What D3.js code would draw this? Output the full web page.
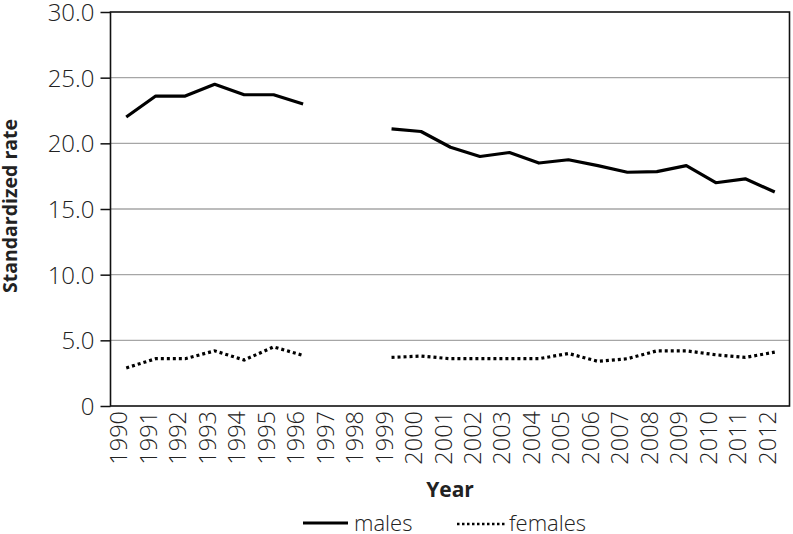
<!DOCTYPE html>
<html>
<head>
<meta charset="utf-8">
<script src="https://cdn.jsdelivr.net/npm/d3@7"></script>
<style>
  html, body { margin: 0; padding: 0; background: #fff; }
  svg { display: block; }
  text { font-family: "Open Sans", sans-serif; fill: #222; }
</style>
</head>
<body>
<svg id="chart" width="793" height="534"></svg>
<script>
const years = ["1990","1991","1992","1993","1994","1995","1996","1997","1998","1999","2000","2001","2002","2003","2004","2005","2006","2007","2008","2009","2010","2011","2012"];
const males = [22.0, 23.6, 23.6, 24.5, 23.7, 23.7, 23.0, null, null, 21.1, 20.9, 19.7, 19.0, 19.3, 18.5, 18.75, 18.3, 17.8, 17.85, 18.3, 17.0, 17.3, 16.3];
const females = [2.9, 3.6, 3.6, 4.2, 3.5, 4.5, 3.85, null, null, 3.7, 3.8, 3.6, 3.6, 3.6, 3.6, 4.0, 3.4, 3.6, 4.2, 4.2, 3.9, 3.7, 4.1];
const yTicks = [0, 5, 10, 15, 20, 25, 30];
const yTickLabels = ["0", "5.0", "10.0", "15.0", "20.0", "25.0", "30.0"];
const yTitle = "Standardized rate";
const xTitle = "Year";
const seriesNames = ["males", "females"];

(function () {
const svg = d3.select("#chart");
const pLeft = 110.5, pRight = 789.5, pTop = 12, pBottom = 406;

const x = d3.scaleBand().domain(years).range([pLeft + 1, pRight]).paddingInner(0).paddingOuter(0);
const y = d3.scaleLinear().domain([0, 30]).range([pBottom, pTop]);

// gridlines
svg.append("g").selectAll("line").data(yTicks.filter(t => t > 0 && t < 30)).join("line")
  .attr("x1", pLeft).attr("x2", pRight)
  .attr("y1", d => y(d)).attr("y2", d => y(d))
  .attr("stroke", "#a6a6a6").attr("stroke-width", 1.3);

// y axis ticks and labels
const yAxis = d3.axisLeft(y).tickValues(yTicks).tickSize(10).tickPadding(6)
  .tickFormat((d, i) => yTickLabels[i]);
const gy = svg.append("g").attr("transform", `translate(${pLeft},0)`).call(yAxis);
gy.select(".domain").remove();
gy.selectAll(".tick line").attr("stroke", "#111").attr("stroke-width", 1.5);
gy.selectAll(".tick text").attr("font-family", "Open Sans").attr("font-size", 24)
  .attr("font-weight", 300).attr("fill", "#222").attr("dy", "0.36em");

// frame
svg.append("rect").attr("x", pLeft).attr("y", pTop).attr("width", pRight - pLeft).attr("height", pBottom - pTop)
  .attr("fill", "none").attr("stroke", "#111").attr("stroke-width", 1.6);

// x labels
const xAxis = d3.axisBottom(x).tickSize(0).tickPadding(0);
const gx = svg.append("g").attr("transform", `translate(0,${pBottom})`).call(xAxis);
gx.select(".domain").remove();
gx.selectAll(".tick text")
  .attr("font-family", "Open Sans").attr("font-size", 23.5).attr("font-weight", 300).attr("fill", "#222")
  .attr("text-anchor", "end")
  .attr("transform", "translate(1,5) rotate(-90)")
  .attr("x", 0).attr("y", 0).attr("dy", 0);

// lines
const lineGen = d3.line()
  .defined(d => d.v !== null)
  .x(d => x(d.year) + x.bandwidth() / 2)
  .y(d => y(d.v));

svg.append("path")
  .datum(years.map((yr, i) => ({ year: yr, v: males[i] })))
  .attr("d", lineGen).attr("fill", "none").attr("stroke", "#000")
  .attr("stroke-width", 3.2).attr("stroke-linejoin", "round");

svg.append("path")
  .datum(years.map((yr, i) => ({ year: yr, v: females[i] })))
  .attr("d", lineGen).attr("fill", "none").attr("stroke", "#000")
  .attr("stroke-width", 3.2).attr("stroke-dasharray", "3,3");

// axis titles
svg.append("text").attr("transform", "translate(17,206) rotate(-90)")
  .attr("text-anchor", "middle").attr("font-weight", 700).attr("font-size", 19.5)
  .attr("fill", "#111").text(yTitle);

svg.append("text").attr("x", 450).attr("y", 497)
  .attr("text-anchor", "middle").attr("font-weight", 700).attr("font-size", 21)
  .attr("fill", "#111").text(xTitle);

// legend
const lg = svg.append("g");
lg.append("line").attr("x1", 303).attr("x2", 348).attr("y1", 523).attr("y2", 523)
  .attr("stroke", "#000").attr("stroke-width", 3.2);
lg.append("text").attr("x", 354).attr("y", 531).attr("font-size", 22).attr("font-weight", 300)
  .attr("fill", "#222").text(seriesNames[0]);
lg.append("line").attr("x1", 457).attr("x2", 505).attr("y1", 524).attr("y2", 524)
  .attr("stroke", "#000").attr("stroke-width", 2.5).attr("stroke-dasharray", "2.5,2.5");
lg.append("text").attr("x", 509).attr("y", 531).attr("font-size", 22).attr("font-weight", 300)
  .attr("fill", "#222").text(seriesNames[1]);
})();
</script>
</body>
</html>
